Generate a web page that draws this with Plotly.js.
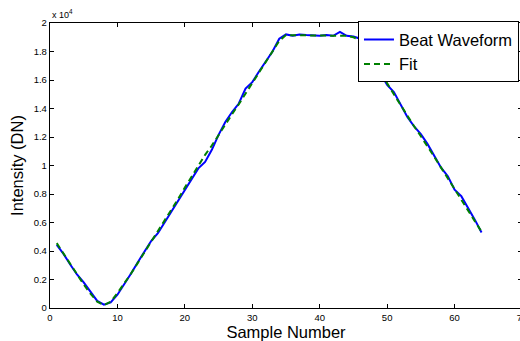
<!DOCTYPE html>
<html>
<head>
<meta charset="utf-8">
<script src="https://cdn.plot.ly/plotly-3.0.1.min.js"></script>
<style>
html,body{margin:0;padding:0;overflow:hidden;background:#fff;}
#chart{width:530px;height:341px;}
</style>
</head>
<body>
<div id="chart"></div>
<script>
// Sample numbers
var samples = [1,2,3,4,5,6,7,8,9,10,11,12,13,14,15,16,17,18,19,20,21,22,23,24,25,26,27,28,29,30,31,32,
  33,34,35,36,37,38,39,40,41,42,43,44,45,46,47,48,49,50,51,52,53,54,55,56,57,58,59,60,61,62,63,64];

// Beat waveform intensity (DN)
var beatWaveform = [4430,3800,3050,2350,1800,1150,500,230,390,930,1650,2400,3200,3950,4700,5250,
  6000,6750,7500,8250,9000,9800,10250,11100,12150,13050,13750,14350,15400,15850,16600,17300,
  18000,18900,19200,19100,19200,19150,19100,19100,19150,19100,19370,19100,19050,18900,18100,17300,
  16500,15650,15150,14300,13400,12750,12200,11500,10700,9850,9250,8300,7850,7050,6200,5300];

// Fitted curve (DN)
var fitCurve = [4550,3800,3050,2350,1650,1000,450,200,450,1050,1700,2400,3150,3900,4600,5350,
  6100,6850,7650,8450,9250,10050,10750,11400,12150,12850,13600,14300,15050,15800,16550,17300,
  18050,18750,19150,19150,19150,19100,19100,19100,19100,19100,19150,19100,19000,18800,18100,17300,
  16500,15750,15000,14250,13450,12750,12050,11350,10600,9850,9100,8350,7650,6900,6100,5350];

// Axis ticks
var xTickVals = [0,10,20,30,40,50,60,70];
var yTickVals = [0,2000,4000,6000,8000,10000,12000,14000,16000,18000,20000];
var yTickText = ["0","0.2","0.4","0.6","0.8","1","1.2","1.4","1.6","1.8","2"];

var font = "Liberation Sans, Arial, Helvetica, sans-serif";

var traces = [
  {x: samples, y: beatWaveform, type: 'scatter', mode: 'lines', name: 'Beat Waveform',
   line: {color: '#0000ff', width: 2}},
  {x: samples, y: fitCurve, type: 'scatter', mode: 'lines', name: 'Fit',
   line: {color: '#008000', width: 2, dash: '6px,4px'}}
];

var layout = {
  width: 530, height: 341,
  margin: {l: 50, r: 8, t: 23, b: 33, pad: 0},
  paper_bgcolor: '#fff', plot_bgcolor: '#fff',
  font: {family: font, size: 9, color: '#000'},
  showlegend: true,
  legend: {
    x: 0.9936, y: 1.006, xanchor: 'right', yanchor: 'top',
    bgcolor: '#fff', bordercolor: '#000', borderwidth: 1,
    font: {family: font, size: 16.5, color: '#000'},
    tracegroupgap: 0, itemwidth: 30
  },
  xaxis: {
    range: [0, 70], tickvals: xTickVals, ticktext: xTickVals.map(String),
    ticks: 'inside', ticklen: 4, tickcolor: '#000', tickwidth: 1,
    showline: true, linecolor: '#000', linewidth: 1.2, mirror: 'ticks',
    showgrid: false, zeroline: false, automargin: false,
    tickfont: {family: font, size: 9.5, color: '#000'},
    title: {text: 'Sample Number', font: {family: font, size: 16.5, color: '#000'}, standoff: 3}
  },
  yaxis: {
    range: [0, 20000], tickvals: yTickVals, ticktext: yTickText,
    ticks: 'inside', ticklen: 4, tickcolor: '#000', tickwidth: 1,
    showline: true, linecolor: '#000', linewidth: 1.2, mirror: 'ticks',
    showgrid: false, zeroline: false, automargin: false,
    tickfont: {family: font, size: 9.5, color: '#000'},
    title: {text: 'Intensity (DN)', font: {family: font, size: 16.5, color: '#000'}, standoff: 6}
  },
  annotations: [
    {xref: 'paper', yref: 'paper', x: 0, y: 1, xanchor: 'left', yanchor: 'bottom',
     text: 'x 10<sup>4</sup>', showarrow: false, yshift: 1,
     font: {family: font, size: 9, color: '#000'}}
  ]
};

Plotly.newPlot('chart', traces, layout, {displayModeBar: false, staticPlot: true});
</script>
</body>
</html>
